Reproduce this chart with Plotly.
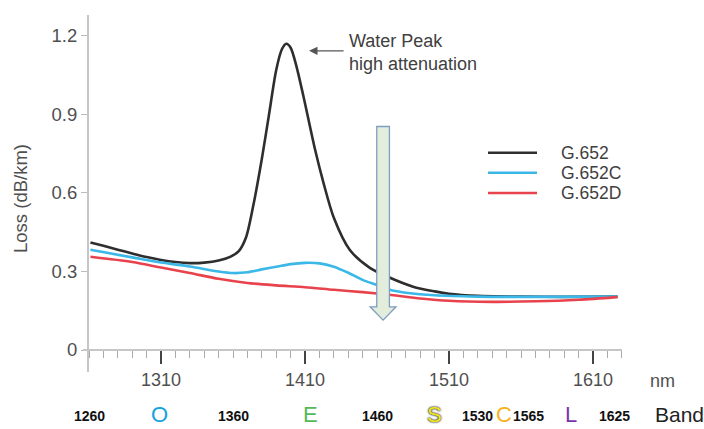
import plotly.graph_objects as go

# Attenuation spectra of single-mode fibre types (loss in dB/km vs wavelength in nm)
wl_g652 = [1261, 1270, 1280, 1290, 1300, 1310, 1320, 1330, 1340, 1350, 1358, 1364,
           1369, 1374, 1380, 1385, 1390, 1394, 1397, 1400, 1404, 1409, 1417, 1423,
           1430, 1441, 1455, 1469, 1485, 1500, 1510, 1530, 1560, 1590, 1627]
loss_g652 = [0.411, 0.398, 0.383, 0.369, 0.355, 0.344, 0.336, 0.332, 0.334, 0.342, 0.356, 0.378,
             0.43, 0.55, 0.73, 0.90, 1.07, 1.150, 1.170, 1.155, 1.085, 0.967, 0.765, 0.635,
             0.505, 0.383, 0.314, 0.276, 0.242, 0.224, 0.215, 0.207, 0.204, 0.203, 0.204]

wl_g652c = [1261, 1290, 1310, 1330, 1350, 1360, 1370, 1380, 1390, 1400, 1410, 1420,
            1430, 1440, 1450, 1460, 1470, 1480, 1500, 1530, 1570, 1627]
loss_g652c = [0.383, 0.354, 0.334, 0.319, 0.300, 0.294, 0.297, 0.308, 0.318, 0.328, 0.333, 0.331,
              0.318, 0.295, 0.268, 0.248, 0.228, 0.219, 0.209, 0.204, 0.203, 0.204]

wl_g652d = [1261, 1290, 1310, 1330, 1350, 1370, 1390, 1410, 1430, 1450, 1470, 1490,
            1510, 1540, 1570, 1600, 1627]
loss_g652d = [0.356, 0.336, 0.315, 0.294, 0.272, 0.256, 0.247, 0.240, 0.230, 0.221, 0.210, 0.197,
              0.188, 0.184, 0.186, 0.192, 0.202]

series_names = ["G.652", "G.652C", "G.652D"]
series_colors = ["#2e2e2e", "#3bb8e8", "#e8434c"]

y_ticks = [0, 0.3, 0.6, 0.9, 1.2]
y_tick_text = ["0", "0.3", "0.6", "0.9", "1.2"]

# Optical band edges and band names
band_edges = [1260, 1360, 1460, 1530, 1565, 1625]
band_names = ["O", "E", "S", "C", "L"]
band_label_pos = [1309, 1414, 1500, 1548, 1595]
band_colors = ["#12a0e0", "#55b85a", "#f2e61c", "#f7b21a", "#7a35a8"]

# Water-peak marker and downward highlight arrow (data units)
peak_arrow_tip = (1412.8, 1.143)
arrow_x = 1464.2
arrow_top, arrow_neck, arrow_tip = 0.854, 0.165, 0.114

W, H = 704, 429
ML, MR, MT, MB = 88, 82, 15, 79
PW, PH = W - ML - MR, H - MT - MB


def px_x(p):
    return (p - ML) / PW


def px_y(p):
    return (H - MB - p) / PH


FONT = "Liberation Sans, Arial, sans-serif"
GREY = "#4f4f4f"

fig = go.Figure()
for wl, loss, name, color in zip([wl_g652, wl_g652c, wl_g652d],
                                 [loss_g652, loss_g652c, loss_g652d],
                                 series_names, series_colors):
    fig.add_trace(go.Scatter(x=wl, y=loss, name=name, mode="lines",
                             line=dict(color=color, width=2.6, shape="spline", smoothing=0.8),
                             showlegend=False, hoverinfo="x+y+name"))

shapes = []
# axis lines
shapes.append(dict(type="line", xref="paper", yref="paper", x0=px_x(88), x1=px_x(88),
                   y0=px_y(372), y1=px_y(15), line=dict(color="#c6c6c6", width=2)))
shapes.append(dict(type="line", xref="paper", yref="paper", x0=px_x(83), x1=px_x(622),
                   y0=0, y1=0, line=dict(color="#c6c6c6", width=2)))

# block arrow
hw_shaft, hw_head = 4.4, 9.0
path = (f"M {arrow_x - hw_shaft},{arrow_top} L {arrow_x + hw_shaft},{arrow_top} "
        f"L {arrow_x + hw_shaft},{arrow_neck} L {arrow_x + hw_head},{arrow_neck} "
        f"L {arrow_x},{arrow_tip} L {arrow_x - hw_head},{arrow_neck} "
        f"L {arrow_x - hw_shaft},{arrow_neck} Z")
shapes.append(dict(type="path", xref="x", yref="y", path=path, layer="above",
                   fillcolor="#e2eedb", line=dict(color="#7f9dc2", width=1.3)))

# legend samples
legend_rows = [152.7, 172.7, 193.0]
annotations = []
for row_y, name, color in zip(legend_rows, series_names, series_colors):
    shapes.append(dict(type="line", xref="paper", yref="paper", x0=px_x(488), x1=px_x(537),
                       y0=px_y(row_y), y1=px_y(row_y), line=dict(color=color, width=2.6)))
    annotations.append(dict(text=name, xref="paper", yref="paper", x=px_x(559), y=px_y(row_y),
                            xanchor="left", yanchor="middle", showarrow=False,
                            font=dict(family=FONT, size=17.5, color="#3f3f3f")))

# water peak note
annotations.append(dict(text="Water Peak<br>high attenuation", xref="paper", yref="paper",
                        x=px_x(347), y=px_y(53), xanchor="left", yanchor="middle", align="left",
                        showarrow=False, font=dict(family=FONT, size=18, color="#404040")))
annotations.append(dict(text="", x=peak_arrow_tip[0], y=peak_arrow_tip[1], xref="x", yref="y",
                        showarrow=True, ax=36, ay=0, arrowhead=2, arrowsize=1.3, arrowwidth=1.3,
                        arrowcolor="#555555"))

# axis captions
annotations.append(dict(text="Loss (dB/km)", xref="paper", yref="paper", x=px_x(20), y=px_y(199),
                        textangle=-90, showarrow=False, xanchor="center", yanchor="middle",
                        font=dict(family=FONT, size=18.5, color=GREY)))
annotations.append(dict(text="nm", xref="paper", yref="paper", x=px_x(662), y=px_y(381),
                        showarrow=False, xanchor="center", yanchor="middle",
                        font=dict(family=FONT, size=18, color=GREY)))

# band row
band_y = px_y(416)
for edge in band_edges:
    annotations.append(dict(text=f"<b>{edge}</b>", xref="x", yref="paper", x=edge, y=band_y,
                            showarrow=False, xanchor="center", yanchor="middle", borderpad=0,
                            font=dict(family=FONT, size=14, color="#111111")))
for pos, name, color in zip(band_label_pos, band_names, band_colors):
    font = dict(family=FONT, size=22, color=color)
    if name == "S":
        font["shadow"] = "0px 0px 2px #333333, 0px 0px 2px #333333"
    annotations.append(dict(text=name, xref="x", yref="paper", x=pos, y=px_y(415),
                            showarrow=False, xanchor="center", yanchor="middle", borderpad=0,
                            font=font))
annotations.append(dict(text="Band", xref="paper", yref="paper", x=px_x(679), y=px_y(415),
                        showarrow=False, xanchor="center", yanchor="middle", borderpad=0,
                        font=dict(family=FONT, size=21, color="#222222")))

fig.update_layout(
    width=W, height=H,
    margin=dict(l=ML, r=MR, t=MT, b=MB, pad=0),
    paper_bgcolor="white", plot_bgcolor="white",
    shapes=shapes, annotations=annotations,
    xaxis=dict(range=[1259.3, 1630.1], tick0=1310, dtick=100, ticks="outside", ticklen=13,
               tickwidth=2, tickcolor="#444444", showgrid=False, zeroline=False, showline=False,
               tickfont=dict(family=FONT, size=18, color=GREY),
               minor=dict(dtick=10, tick0=1310, ticks="outside", ticklen=7, tickwidth=1,
                          tickcolor="#aaaaaa", showgrid=False)),
    yaxis=dict(range=[0, 1.28], tickvals=y_ticks, ticktext=y_tick_text, ticks="outside",
               ticklen=6, tickwidth=1, tickcolor="#bbbbbb", showgrid=False, zeroline=False,
               showline=False, tickfont=dict(family=FONT, size=18.5, color=GREY)),
)

fig.write_html("out.html")
